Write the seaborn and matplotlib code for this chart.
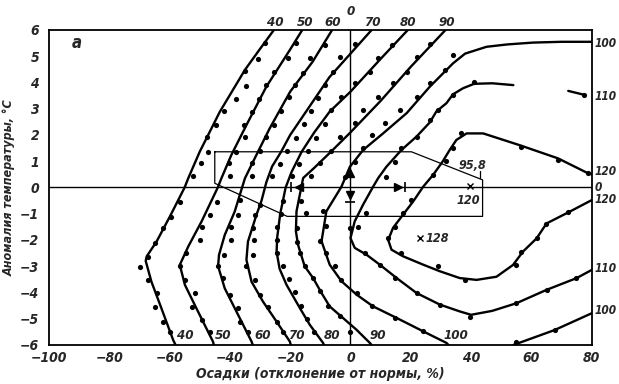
import numpy as np
import pandas as pd
import matplotlib
matplotlib.use("Agg")
import matplotlib.pyplot as plt
import seaborn as sns

# ---------------- data ----------------
# isolines (precipitation anomaly %, temperature anomaly °C)
c40_x = [-25.4, -30.5, -35.0, -43.3, -50.0, -53.8, -55.0, -59.9, -64.3, -67.6, -67.9, -66.0, -62.7, -58.8, -58.0]
c40_y = [6.0, 5.2, 4.48, 2.89, 1.36, 0.35, 0.0, -1.11, -2.06, -2.63, -2.8, -3.59, -4.6, -5.81, -6.0]
c50_x = [-16.0, -20.1, -27.9, -34.5, -39.5, -42.8, -44.0, -49.4, -53.8, -56.6, -54.9, -51.1, -45.6, -45.3]
c50_y = [6.0, 5.24, 3.84, 2.38, 1.24, 0.35, 0.0, -1.3, -2.25, -2.95, -3.71, -4.6, -5.87, -6.0]
c60_x = [-6.1, -12.5, -20.0, -26.8, -31.2, -35.0, -38.4, -41.7, -43.6, -43.9, -41.7, -37.8, -32.8, -32.4]
c60_y = [6.0, 4.8, 3.65, 2.25, 1.24, 0.35, -0.92, -1.81, -2.57, -3.0, -3.84, -4.73, -5.87, -6.0]
c70_x = [7.0, 0.0, -7.0, -13.5, -20.0, -23.0, -26.0, -27.9, -29.5, -31.2, -34.0, -34.5, -32.8, -29.0, -24.5, -20.1, -19.8]
c70_y = [6.0, 5.1, 4.2, 3.1, 2.0, 1.36, 0.8, 0.2, -0.5, -1.05, -2.06, -2.76, -3.59, -4.35, -5.11, -5.87, -6.0]
c80_x = [19.0, 10.0, 0.0, -6.9, -12.0, -16.2, -19.5, -21.5, -23.3, -24.3, -24.5, -23.5, -21.2, -20.0, -16.8, -13.5, -9.1, -8.8]
c80_y = [6.0, 4.9, 3.65, 2.89, 2.1, 1.36, 0.6, 0.0, -1.0, -1.9, -2.45, -3.1, -3.71, -3.95, -4.59, -5.23, -5.92, -6.0]
c90_x = [31.5, 20.0, 10.0, 0.0, -6.5, -12.0, -15.7, -17.9, -18.1, -17.4, -15.2, -12.4, -9.6, -6.9, -2.5, 2.0, 6.4, 7.0]
c90_y = [6.0, 4.6, 3.3, 2.1, 1.36, 0.75, 0.36, -0.91, -1.67, -2.18, -3.0, -3.45, -4.02, -4.53, -4.97, -5.42, -5.92, -6.0]
c100_x = [80.0, 70.0, 60.5, 52.0, 45.1, 38.0, 34.0, 26.3, 18.6, 10.8, 4.2, -0.2, -3.0, -8.0, -9.6, -6.9, -3.0, 2.0, 7.5, 15.3, 24.1, 31.8, 32.5]
c100_y = [5.55, 5.55, 5.52, 5.45, 5.36, 5.1, 4.73, 3.84, 2.83, 2.06, 1.43, 0.79, 0.03, -0.91, -2.05, -2.94, -3.57, -4.08, -4.53, -4.97, -5.48, -5.92, -6.0]
c100b_x = [54.0, 67.7, 80.0]
c100b_y = [-6.0, -5.43, -4.79]
c110_x = [54.0, 47.0, 41.0, 37.3, 34.0, 31.8, 28.5, 26.3, 21.9, 16.9, 11.9, 9.2, 7.5, 4.2, 1.4, 0.0, 1.4, 5.3, 9.7, 15.3, 21.9, 29.6, 36.2, 40.0, 47.0, 55.0, 65.0, 75.0, 80.0]
c110_y = [3.9, 3.97, 3.95, 3.78, 3.55, 3.21, 2.9, 2.48, 1.94, 1.43, 0.79, 0.36, 0.03, -0.65, -1.29, -1.93, -2.3, -2.56, -2.94, -3.45, -4.02, -4.46, -4.72, -4.85, -4.7, -4.41, -3.9, -3.45, -3.14]
c110b_x = [72.2, 77.5]
c110b_y = [3.68, 3.53]
c120_x = [80.0, 78.8, 68.8, 56.4, 44.0, 38.5, 35.1, 32.9, 30.5, 27.4, 24.1, 20.8, 17.4, 14.1, 12.5, 13.6, 17.4, 24.1, 29.6, 36.2, 41.8, 48.4, 53.9, 57.2, 61.7, 65.0, 72.7, 80.0]
c120_y = [0.5, 0.54, 1.11, 1.6, 2.06, 2.06, 1.81, 1.43, 0.98, 0.48, 0.03, -0.53, -1.04, -1.54, -2.0, -2.37, -2.62, -2.94, -3.19, -3.45, -3.52, -3.4, -2.95, -2.44, -1.94, -1.37, -0.92, -0.48]

# observation points
d40_x = [-28.2, -30.6, -35.0, -34.7, -37.8, -42.0, -44.7, -47.5, -47.2, -49.6, -52.2, -56.6, -59.4, -62.1, -64.9, -67.1, -69.9, -67.1, -64.3, -64.9, -62.1, -59.9]
d40_y = [5.49, 4.88, 4.44, 3.87, 3.36, 2.91, 2.38, 1.91, 1.36, 0.92, 0.44, -0.54, -1.11, -1.56, -2.13, -2.63, -3.02, -3.52, -4.03, -4.54, -5.11, -5.49]
d50_x = [-18.1, -20.7, -25.4, -27.9, -30.3, -32.6, -35.3, -35.0, -37.8, -40.2, -40.0, -44.4, -46.6, -49.4, -50.0, -54.4, -56.6, -54.9, -51.6, -52.7, -49.4, -46.6]
d50_y = [5.49, 4.92, 4.41, 3.9, 3.37, 2.89, 2.38, 1.94, 1.36, 0.92, 0.44, -0.54, -1.05, -1.49, -2.0, -2.51, -3.0, -3.52, -4.03, -4.54, -5.05, -5.49]
d60_x = [-8.5, -13.5, -15.7, -18.4, -20.5, -23.2, -25.4, -27.9, -30.1, -32.6, -32.8, -36.7, -37.3, -39.5, -39.6, -41.9, -43.9, -42.2, -40.0, -37.3, -36.7, -34.0]
d60_y = [5.43, 4.95, 4.38, 3.9, 3.43, 2.9, 2.38, 1.94, 1.4, 0.92, 0.44, -0.48, -1.05, -1.5, -2.0, -2.57, -3.0, -3.46, -4.1, -4.6, -5.11, -5.49]
d70_x = [1.4, -3.5, -5.8, -8.5, -10.8, -13.0, -15.5, -18.0, -21.0, -23.5, -26.0, -30.1, -31.7, -32.3, -32.1, -32.3, -34.5, -31.7, -30.1, -27.3, -24.5, -22.3]
d70_y = [5.47, 4.98, 4.41, 3.9, 3.4, 2.9, 2.4, 1.9, 1.4, 0.9, 0.44, -0.67, -1.05, -1.56, -2.0, -2.57, -3.0, -3.52, -4.1, -4.54, -5.11, -5.49]
d80_x = [13.6, 9.2, 6.4, 1.4, -3.0, -6.3, -8.5, -11.5, -14.0, -17.0, -19.5, -22.5, -23.0, -24.5, -24.5, -24.5, -22.5, -20.5, -18.5, -16.5, -14.5, -12.0]
d80_y = [5.43, 4.92, 4.41, 3.97, 3.46, 2.95, 2.4, 1.9, 1.4, 0.9, 0.44, -0.5, -1.0, -1.49, -2.0, -2.5, -3.0, -3.5, -4.0, -4.5, -5.0, -5.5]
d90_x = [26.3, 21.9, 18.6, 14.1, 9.2, 4.2, 1.4, -3.5, -6.5, -10.0, -13.0, -16.5, -14.8, -17.9, -17.9, -16.8, -15.2, -12.4, -10.2, -7.4, -3.5, 0.0]
d90_y = [5.47, 4.98, 4.41, 3.97, 3.46, 2.95, 2.44, 1.94, 1.4, 0.95, 0.45, -0.5, -0.97, -1.54, -2.06, -2.5, -3.0, -3.45, -3.95, -4.53, -4.91, -5.49]
d100_x = [34.0, 31.3, 26.3, 21.9, 16.3, 11.4, 7.0, 4.2, 1.4, -1.9, -9.1, -8.0, -10.2, -8.0, -5.2, -3.0, 2.0, 7.0, 14.7, 24.1, 55.0, 67.7]
d100_y = [5.05, 4.48, 3.97, 3.46, 2.95, 2.47, 2.0, 1.49, 0.98, 0.41, -0.91, -1.48, -2.05, -2.5, -3.0, -3.51, -4.02, -4.53, -4.97, -5.48, -5.87, -5.43]
d110_x = [41.0, 34.0, 29.0, 26.3, 21.9, 16.9, 14.7, 11.9, 5.3, 2.5, 0.0, 4.7, 9.7, 14.7, 21.9, 29.6, 39.6, 55.0, 65.0, 74.9, 77.5]
d110_y = [4.0, 3.52, 2.95, 2.57, 1.94, 1.49, 0.98, 0.41, -0.97, -1.52, -1.54, -2.5, -2.94, -3.45, -4.02, -4.46, -4.92, -4.41, -3.9, -3.46, 3.53]
d120_x = [78.8, 68.8, 56.7, 36.8, 34.0, 31.8, 27.4, 20.2, 17.4, 14.7, 12.4, 16.9, 29.0, 37.9, 55.0, 56.7, 61.7, 64.8, 72.2]
d120_y = [0.54, 1.05, 1.55, 2.06, 1.49, 1.01, 0.48, -0.46, -0.97, -1.52, -1.94, -2.51, -2.99, -3.52, -2.95, -2.44, -1.94, -1.4, -0.92]

# outlined region
box_x = [-45.0, 20.2, 43.8, 43.8, -21.0, -45.0, -45.0]
box_y = [1.36, 1.36, 0.29, -1.1, -1.1, 0.16, 1.36]

x_ticks = [-100, -80, -60, -40, -20, 0, 20, 40, 60, 80]
y_ticks = [6, 5, 4, 3, 2, 1, 0, -1, -2, -3, -4, -5, -6]

top_labels = ["40", "50", "60", "70", "80", "90"]
top_label_x = [-24.8, -15.2, -5.9, 7.1, 19.0, 31.9]
bottom_labels = ["40", "50", "60", "70", "80", "90", "100"]
bottom_label_x = [-54.9, -42.4, -29.1, -17.8, -6.2, 9.0, 34.9]
right_labels = ["100", "110", "120", "0", "120", "110", "100"]
right_label_y = [5.5, 3.45, 0.6, 0.0, -0.45, -3.1, -4.7]

# ---------------- drawing ----------------
sns.set_style("white")
FAM = ["DejaVu Sans"]
plt.rcParams["font.family"] = FAM
plt.rcParams["axes.unicode_minus"] = True

FONT = dict(fontstyle="italic", fontweight="bold", fontstretch="condensed", family=FAM)

fig = plt.figure(figsize=(6.19, 3.84), dpi=100)
ax = fig.add_axes([0.079, 0.1016, 0.877, 0.8203])

curves = [(c40_x, c40_y), (c50_x, c50_y), (c60_x, c60_y), (c70_x, c70_y), (c80_x, c80_y),
          (c90_x, c90_y), (c100_x, c100_y), (c100b_x, c100b_y), (c110_x, c110_y),
          (c110b_x, c110b_y), (c120_x, c120_y)]
for cx, cy in curves:
    df = pd.DataFrame({"x": cx, "y": cy})
    sns.lineplot(data=df, x="x", y="y", sort=False, estimator=None, color="black",
                 linewidth=1.7, ax=ax, zorder=3)

dots_x = d40_x + d50_x + d60_x + d70_x + d80_x + d90_x + d100_x + d110_x + d120_x
dots_y = d40_y + d50_y + d60_y + d70_y + d80_y + d90_y + d100_y + d110_y + d120_y
sns.scatterplot(x=dots_x, y=dots_y, color="black", s=14, linewidth=0, ax=ax, zorder=4)

# zero lines
ax.axhline(0, color="black", lw=1.0, zorder=2)
ax.axvline(0, color="black", lw=1.0, zorder=2)

# outlined region
sns.lineplot(x=box_x, y=box_y, sort=False, estimator=None, color="black", linewidth=0.9, ax=ax, zorder=2)

# range marks on the zero lines
ax.plot([-19.6, 18.0], [0, 0], linestyle="none", marker="|", color="black", markersize=7, mew=1.2, zorder=5)
ax.plot([-17.0], [0], marker="<", color="black", markersize=6, linestyle="none", zorder=5)
ax.plot([15.8], [0], marker=">", color="black", markersize=6, linestyle="none", zorder=5)
ax.plot([0], [0.55], marker="^", color="black", markersize=6, linestyle="none", zorder=5)
ax.plot([0], [-0.3], marker="v", color="black", markersize=6, linestyle="none", zorder=5)
ax.plot([0], [-0.55], marker="_", color="black", markersize=7, mew=1.2, linestyle="none", zorder=5)

# special points
ax.plot([39.6], [0.05], marker="x", color="black", markersize=4, mew=1.0, linestyle="none", zorder=5)
ax.plot([23.2], [-1.94], marker="x", color="black", markersize=4, mew=1.0, linestyle="none", zorder=5)
ax.text(40.5, 0.85, "95,8", ha="center", va="center", fontsize=9, **FONT)
ax.plot([42.9, 42.9], [0.35, 0.62], color="black", lw=0.9)
ax.text(39.0, -0.5, "120", ha="center", va="center", fontsize=9, **FONT)
ax.text(25.0, -1.94, "128", ha="left", va="center", fontsize=9, **FONT)
ax.text(-90.7, 5.5, "а", ha="center", va="center", fontsize=12, **FONT)

# isoline labels
for lab, xx in zip(top_labels, top_label_x):
    ax.text(xx, 6.05, lab, ha="center", va="bottom", fontsize=9.5, clip_on=False, **FONT)
ax.text(0, 6.45, "0", ha="center", va="bottom", fontsize=9.5, clip_on=False, **FONT)
for lab, xx in zip(bottom_labels, bottom_label_x):
    ax.text(xx, -5.62, lab, ha="center", va="center", fontsize=9.5, **FONT)
for lab, yy in zip(right_labels, right_label_y):
    ax.text(80.8, yy, lab, ha="left", va="center", fontsize=8.5, clip_on=False, **FONT)

ax.set_xlim(-100, 80)
ax.set_ylim(-6, 6)
ax.set_xticks(x_ticks)
ax.set_yticks(y_ticks)
ax.set_xticklabels([str(v).replace("-", "\u2212") for v in x_ticks], fontsize=10, **FONT)
ax.set_yticklabels([str(v).replace("-", "\u2212") for v in y_ticks], fontsize=10, **FONT)
ax.tick_params(axis="x", direction="in", length=4, width=1, pad=4, top=False)
ax.tick_params(axis="y", direction="in", length=0, pad=7, right=False)
for s in ax.spines.values():
    s.set_visible(True)
    s.set_color("black")
    s.set_linewidth(1.3)

ax.set_xlabel("Осадки (отклонение от нормы, %)", fontsize=10, labelpad=2, **FONT)
ax.set_ylabel("Аномалия температуры, °С", fontsize=9, **FONT)
ax.yaxis.set_label_coords(-0.062, 0.5)

fig.savefig("out.png", dpi=100)
